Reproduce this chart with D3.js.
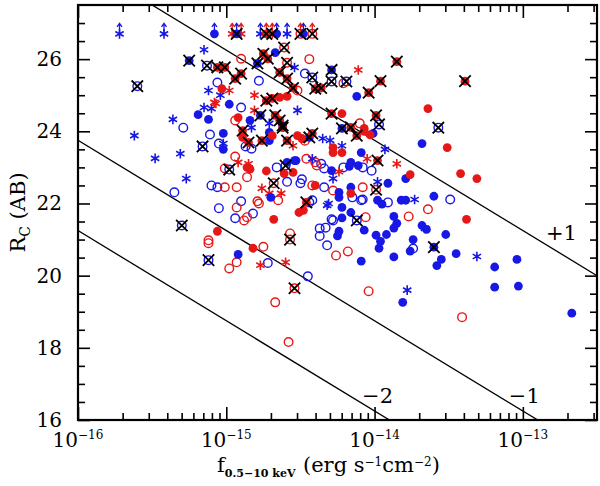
<!DOCTYPE html>
<html lang="en">
<head>
<meta charset="utf-8">
<title>R_C vs f(0.5-10 keV)</title>
<script src="https://cdn.jsdelivr.net/npm/d3@7"></script>
<style>
body { margin: 0; background: #fff; }
text { font-family: "DejaVu Serif", "Liberation Serif", serif; fill: #000; }
</style>
</head>
<body>
<script>

// each point: [log10 f(0.5-10 keV), R_C (AB)]
var blueFilled = [
  [-15.25,25.96],[-14.98,24.75],[-15.19,24.46],[-15.12,24.33],[-15.02,23.94],[-15.02,23.5],
  [-14.70,22.17],[-14.54,23.19],[-14.92,20.59],[-14.25,21.1],[-14.09,20.4],[-13.97,20.76],
  [-13.96,20.95],[-13.87,20.52],[-13.76,20.68],[-13.74,21.0],[-13.60,20.79],[-13.58,20.28],
  [-13.55,20.45],[-13.45,20.61],[-13.19,20.24],[-13.04,20.45],[-13.19,19.68],[-13.03,19.71],
  [-12.67,18.96],[-13.81,19.26],[-14.29,25.7],[-14.12,24.97],[-13.68,23.66],[-14.22,24.08],
  [-13.79,22.69],[-13.60,22.2],[-13.65,21.28],[-13.52,21.14],[-13.91,22.56],[-14.16,22.45],
  [-13.98,22.09],[-13.95,21.98],[-13.82,22.09],[-13.79,22.09],[-14.22,21.89],[-14.16,21.75],
  [-14.22,21.6],[-14.24,21.23],[-14.07,21.26],[-13.99,21.12],[-13.92,21.14],[-13.87,21.32],
  [-13.85,21.45],[-13.87,21.64],[-14.44,23.83],[-14.01,23.94],[-14.29,22.91],[-14.16,23.14],
  [-14.17,23.03],[-14.11,23.05],[-14.09,23.41],[-14.24,22.31],[-14.24,22.17],[-13.68,21.39],
  [-14.71,23.74],[-14.71,23.97],[-14.59,23.14],[-14.53,23.19],[-14.79,25.88],[-14.67,26.18],
  [-14.84,24.3],[-14.77,24.44],[-14.62,24.16],
  [-15.08,26.7],[-14.93,26.7],[-14.66,26.7],[-14.48,26.7]
];
var blueOpen = [
  [-15.13,25.82],[-15.06,25.35],[-14.90,24.66],[-15.29,24.1],[-15.11,23.91],[-15.05,23.66],
  [-15.16,23.58],[-15.60,25.25],[-15.35,22.31],[-15.30,21.39],[-15.10,22.5],[-15.06,22.45],
  [-15.05,21.87],[-14.98,22.94],[-14.90,22.06],[-14.94,21.59],[-14.82,21.72],[-14.59,22.6],
  [-14.60,23.05],[-15.12,20.43],[-14.72,20.35],[-14.45,19.98],[-14.32,20.84],[-14.37,21.1],
  [-13.74,20.75],[-14.42,25.49],[-14.29,25.38],[-14.19,25.38],[-13.57,24.1],[-13.97,24.19],
  [-13.49,22.11],[-14.15,22.17],[-14.08,22.11],[-13.91,22.03],[-14.12,21.53],[-14.29,21.56],
  [-14.37,21.31],[-14.33,21.33],[-14.42,22.09],[-14.36,23.1],[-14.34,22.97],[-14.21,23.0],
  [-14.08,23.0],[-14.02,22.91],[-14.49,22.67],[-14.34,22.45],[-14.44,22.03],[-14.09,22.09],
  [-14.28,21.53],[-14.87,23.58],[-14.83,23.52],[-14.66,23.0],[-14.50,22.56],[-14.47,25.6],
  [-14.78,25.4]
];
var blueStar = [
  [-15.15,26.26],[-15.12,25.13],[-15.04,25.0],[-15.15,24.66],[-15.10,24.63],[-15.36,24.33],
  [-15.62,23.88],[-15.48,23.25],[-15.31,23.38],[-15.27,22.69],[-15.02,23.66],[-13.31,20.53],
  [-13.78,19.6],[-13.93,23.5],[-13.98,22.6],[-13.73,22.11],[-13.66,21.31],[-14.31,22.0],
  [-14.35,23.8],[-14.30,23.75],[-14.22,23.6],[-14.42,23.24],[-14.28,22.69],[-14.32,21.95],
  [-14.83,24.1],[-14.54,25.77],[-14.71,24.22],[-14.52,24.58],
  [-15.72,26.7],[-15.42,26.7],[-14.77,26.7],[-14.59,26.7]
];
var redFilled = [
  [-15.06,25.77],[-15.01,25.77],[-15.03,25.18],[-14.73,22.9],[-14.68,21.56],[-15.06,21.23],
  [-14.82,20.76],[-14.61,22.83],[-14.55,22.86],[-13.85,25.93],[-13.39,25.39],[-13.96,25.39],
  [-14.40,25.18],[-13.64,24.63],[-13.51,23.55],[-13.42,22.83],[-13.31,22.69],[-13.38,21.56],
  [-14.29,24.49],[-14.22,24.49],[-14.16,24.11],[-14.07,24.08],[-14.03,23.9],[-13.98,23.19],
  [-13.76,22.8],[-14.48,21.81],[-14.49,23.8],[-14.28,23.55],[-14.28,23.41],[-14.22,23.41],
  [-14.07,24.0],[-14.40,22.5],[-14.16,22.28],[-14.89,23.83],[-14.85,23.69],[-14.69,23.88],
  [-14.52,23.88],[-14.86,23.0],[-14.84,22.95],[-14.51,21.75],[-14.92,24.38],[-14.64,24.94],
  [-14.59,24.97],[-14.72,26.01],[-14.04,25.07],[-14.36,25.2],[-14.94,25.46],[-14.90,25.6],
  [-14.12,23.88],[-13.99,24.44],[-14.89,24.02],[-14.76,23.74],[-14.62,24.1],[-14.59,23.74],
  [-14.75,26.15],[-14.64,25.63],[-14.59,25.46],[-14.55,25.2],[-14.73,24.85],[-14.69,24.91],
  [-14.67,24.44],[-14.64,24.3],[-14.42,23.94],[-14.46,22.03],
  [-14.73,26.7]
];
var redOpen = [
  [-14.94,23.3],[-15.01,22.97],[-14.93,22.45],[-14.93,21.89],[-14.88,21.53],[-14.86,21.62],
  [-15.12,20.98],[-14.86,22.73],[-14.79,22.06],[-14.78,22.0],[-14.65,22.09],[-14.57,21.17],
  [-14.75,20.8],[-15.12,20.9],[-14.98,20.2],[-14.93,20.37],[-14.54,19.65],[-14.67,19.26],
  [-14.58,18.16],[-14.26,20.56],[-14.18,20.67],[-14.04,19.57],[-13.41,18.85],[-14.21,25.33],
  [-14.44,26.0],[-14.10,24.22],[-13.64,21.84],[-13.99,22.38],[-14.08,22.45],[-14.06,21.62],
  [-14.46,23.24],[-14.40,23.14],[-14.39,23.05],[-14.42,22.5],[-14.28,22.36],[-13.77,21.64],
  [-14.47,23.74],[-15.01,22.45],[-14.68,22.56],[-14.90,26.01],[-14.61,26.32],[-14.59,25.9],
  [-14.52,25.13],[-14.94,24.3],[-14.57,21.0],
  [-14.50,26.7],[-14.42,26.7]
];
var redStar = [
  [-15.07,24.77],[-14.98,25.13],[-14.92,23.14],[-14.85,23.1],[-14.76,22.42],[-14.71,22.28],
  [-14.77,20.29],[-14.60,20.37],[-14.11,25.7],[-13.85,23.1],[-14.24,22.88],[-14.05,23.24],
  [-14.55,23.6],[-14.63,22.28],[-15.08,24.8],[-14.81,24.58],[-14.81,25.0],
  [-14.96,26.7],[-14.90,26.7],[-14.69,26.7]
];
// sources marked with a cross
var crossed = [
  [-15.25,25.96],[-15.13,25.82],[-15.06,25.77],[-15.01,25.77],[-14.94,25.46],[-14.90,25.6],
  [-15.16,23.58],[-15.60,25.25],[-15.30,21.39],[-14.98,22.94],[-14.68,22.56],[-14.60,23.05],
  [-15.12,20.43],[-14.54,19.65],[-14.57,21.0],[-13.60,20.79],[-13.85,25.93],[-13.39,25.39],
  [-14.29,25.7],[-14.42,25.49],[-14.29,25.38],[-14.19,25.38],[-13.96,25.39],[-14.04,25.07],
  [-14.40,25.18],[-14.36,25.2],[-13.57,24.1],[-14.29,24.49],[-13.99,24.44],[-13.97,24.19],
  [-14.22,24.08],[-14.16,24.11],[-14.12,23.88],[-13.98,23.19],[-13.99,22.38],[-14.46,22.03],
  [-14.12,21.53],[-14.44,23.83],[-14.42,23.94],[-14.89,24.02],[-14.85,23.69],[-14.76,23.74],
  [-14.62,24.1],[-14.59,23.74],[-14.79,25.88],[-14.75,26.15],[-14.72,26.01],[-14.61,26.32],
  [-14.59,25.9],[-14.64,25.63],[-14.59,25.46],[-14.55,25.2],[-14.77,24.44],[-14.73,24.85],
  [-14.69,24.91],[-14.67,24.44],[-14.64,24.3],[-14.62,24.16],
  [-14.93,26.7],[-14.73,26.7],[-14.69,26.7],[-14.50,26.7],[-14.42,26.7]
];
// lower limits on R (too faint), drawn as arrows
var blueLimits = [-15.72,-15.42,-15.08,-14.93,-14.77,-14.66,-14.59,-14.48];
var redLimits = [-14.96,-14.90,-14.73,-14.69,-14.50,-14.42];
var limitR = 26.7;

// constant X/O lines: log fx + R/2.5 + 5.5 = level
var xoLevels = [1, -1, -2];
var xoLabels = ["+1", "\u22121", "\u22122"];

var xDecades = [-16, -15, -14, -13];
var yTicks = [16, 18, 20, 22, 24, 26];

var blue = "#1717e6", red = "#e61717";

var margin = {top: 5, right: 3, bottom: 66, left: 78};
var width = 600 - margin.left - margin.right;
var height = 486 - margin.top - margin.bottom;

var svg = d3.select("body").append("svg")
    .attr("width", 600).attr("height", 486)
  .append("g")
    .attr("transform", "translate(" + margin.left + "," + margin.top + ")");

var x = d3.scaleLog().domain([1e-16, Math.pow(10, -12.5)]).range([0, width]);
var y = d3.scaleLinear().domain([16, 27.5]).range([height, 0]);
function px(d) { return x(Math.pow(10, d[0])); }
function py(d) { return y(d[1]); }

svg.append("clipPath").attr("id", "clip")
  .append("rect").attr("width", width).attr("height", height);

// tick values
var major = xDecades.map(function(e) { return Math.pow(10, e); });
var minor = [];
xDecades.forEach(function(e) {
  for (var k = 2; k <= 9; k++) {
    var v = k * Math.pow(10, e);
    if (v <= x.domain()[1]) minor.push(v);
  }
});
var yMinor = d3.range(16.5, 27.5, 0.5).filter(function(v) { return v % 2 !== 0; });

var axes = [
  [d3.axisBottom, x, major, -13, "translate(0," + height + ")"],
  [d3.axisBottom, x, minor, -7, "translate(0," + height + ")"],
  [d3.axisTop, x, major, -13, null],
  [d3.axisTop, x, minor, -7, null],
  [d3.axisLeft, y, yTicks, -12, null],
  [d3.axisLeft, y, yMinor, -7, null],
  [d3.axisRight, y, yTicks, -12, "translate(" + width + ",0)"],
  [d3.axisRight, y, yMinor, -7, "translate(" + width + ",0)"]
];
axes.forEach(function(a) {
  var g = svg.append("g").call(a[0](a[1]).tickValues(a[2]).tickSize(a[3]).tickFormat(""));
  if (a[4]) g.attr("transform", a[4]);
  g.select(".domain").remove();
  g.selectAll("line").attr("stroke", "#000").attr("stroke-width", 1.6);
});

// y tick labels
svg.selectAll(".ylab").data(yTicks).enter().append("text")
  .attr("x", -16).attr("y", function(d) { return y(d) + 7; })
  .attr("text-anchor", "end").attr("font-size", 20)
  .text(function(d) { return d; });

// x tick labels 10^n
var xl = svg.selectAll(".xlab").data(xDecades).enter().append("text")
  .attr("x", function(d) { return x(Math.pow(10, d)); })
  .attr("y", height + 27).attr("text-anchor", "middle").attr("font-size", 20);
xl.append("tspan").text("10");
xl.append("tspan").attr("dy", -8).attr("font-size", 12)
  .text(function(d) { return "\u2212" + Math.abs(d); });

// constant X/O lines
var lineGen = d3.line().x(px).y(py);
var clipped = svg.append("g").attr("clip-path", "url(#clip)");
xoLevels.forEach(function(k) {
  var pts = [-16, -12.5].map(function(lf) { return [lf, 2.5 * (k - 5.5 - lf)]; });
  clipped.append("path").attr("d", lineGen(pts))
    .attr("fill", "none").attr("stroke", "#000").attr("stroke-width", 1.3);
});
var labAt = [[-12.74, 20.99], [-12.99, 16.47], [-13.98, 16.47]];
xoLabels.forEach(function(t, i) {
  svg.append("text").attr("x", px(labAt[i])).attr("y", py(labAt[i]))
    .attr("text-anchor", "middle").attr("font-size", 21).text(t);
});

// symbols
var pts = svg.append("g");
function circles(data, color, filled) {
  pts.append("g").selectAll("circle").data(data).enter().append("circle")
    .attr("cx", px).attr("cy", py).attr("r", filled ? 4.4 : 4.3)
    .attr("fill", filled ? color : "none")
    .attr("stroke", color).attr("stroke-width", filled ? 0 : 1.4);
}
function stars(data, color) {
  var s = 4.8;
  pts.append("g").selectAll("path").data(data).enter().append("path")
    .attr("transform", function(d) { return "translate(" + px(d) + "," + py(d) + ")"; })
    .attr("d", "M0," + (-s) + "V" + s +
               "M" + (-s * 0.87) + "," + (-s / 2) + "L" + (s * 0.87) + "," + (s / 2) +
               "M" + (-s * 0.87) + "," + (s / 2) + "L" + (s * 0.87) + "," + (-s / 2))
    .attr("stroke", color).attr("stroke-width", 1.6).attr("fill", "none");
}
function arrows(data, color) {
  pts.append("g").selectAll("path").data(data).enter().append("path")
    .attr("transform", function(d) { return "translate(" + px([d]) + "," + y(limitR) + ")"; })
    .attr("d", "M0,0V-10M-2.5,-7L0,-10.5L2.5,-7")
    .attr("stroke", color).attr("stroke-width", 1.3).attr("fill", "none");
}
circles(blueOpen, blue, false);
circles(redOpen, red, false);
stars(blueStar, blue);
stars(redStar, red);
circles(blueFilled, blue, true);
circles(redFilled, red, true);
arrows(blueLimits, blue);
arrows(redLimits, red);

var c = 5.7;
pts.append("g").selectAll("path").data(crossed).enter().append("path")
  .attr("transform", function(d) { return "translate(" + px(d) + "," + py(d) + ")"; })
  .attr("d", "M" + (-c) + "," + (-c) + "L" + c + "," + c + "M" + (-c) + "," + c + "L" + c + "," + (-c))
  .attr("stroke", "#000").attr("stroke-width", 1.8);

// frame
svg.append("rect").attr("width", width).attr("height", height)
  .attr("fill", "none").attr("stroke", "#000").attr("stroke-width", 2.2);

// axis titles
var xt = svg.append("text").attr("x", 139).attr("y", height + 52).attr("font-size", 21);
xt.append("tspan").text("f");
xt.append("tspan").attr("dy", 5).attr("font-size", 11).attr("font-weight", "bold").text("0.5\u221210 keV");
xt.append("tspan").attr("x", 225).attr("dy", -5).text("(erg s");
xt.append("tspan").attr("dy", -6).attr("font-size", 12).text("\u22121");
xt.append("tspan").attr("dy", 6).text("cm");
xt.append("tspan").attr("dy", -6).attr("font-size", 12).text("\u22122");
xt.append("tspan").attr("dy", 6).text(")");

var yt = svg.append("text")
  .attr("transform", "translate(" + (-53) + "," + (height / 2) + ") rotate(-90)")
  .attr("text-anchor", "middle").attr("font-size", 21);
yt.append("tspan").text("R");
yt.append("tspan").attr("dy", 5).attr("font-size", 14).text("C");
yt.append("tspan").attr("dy", -5).text(" (AB)");

</script>
</body>
</html>
